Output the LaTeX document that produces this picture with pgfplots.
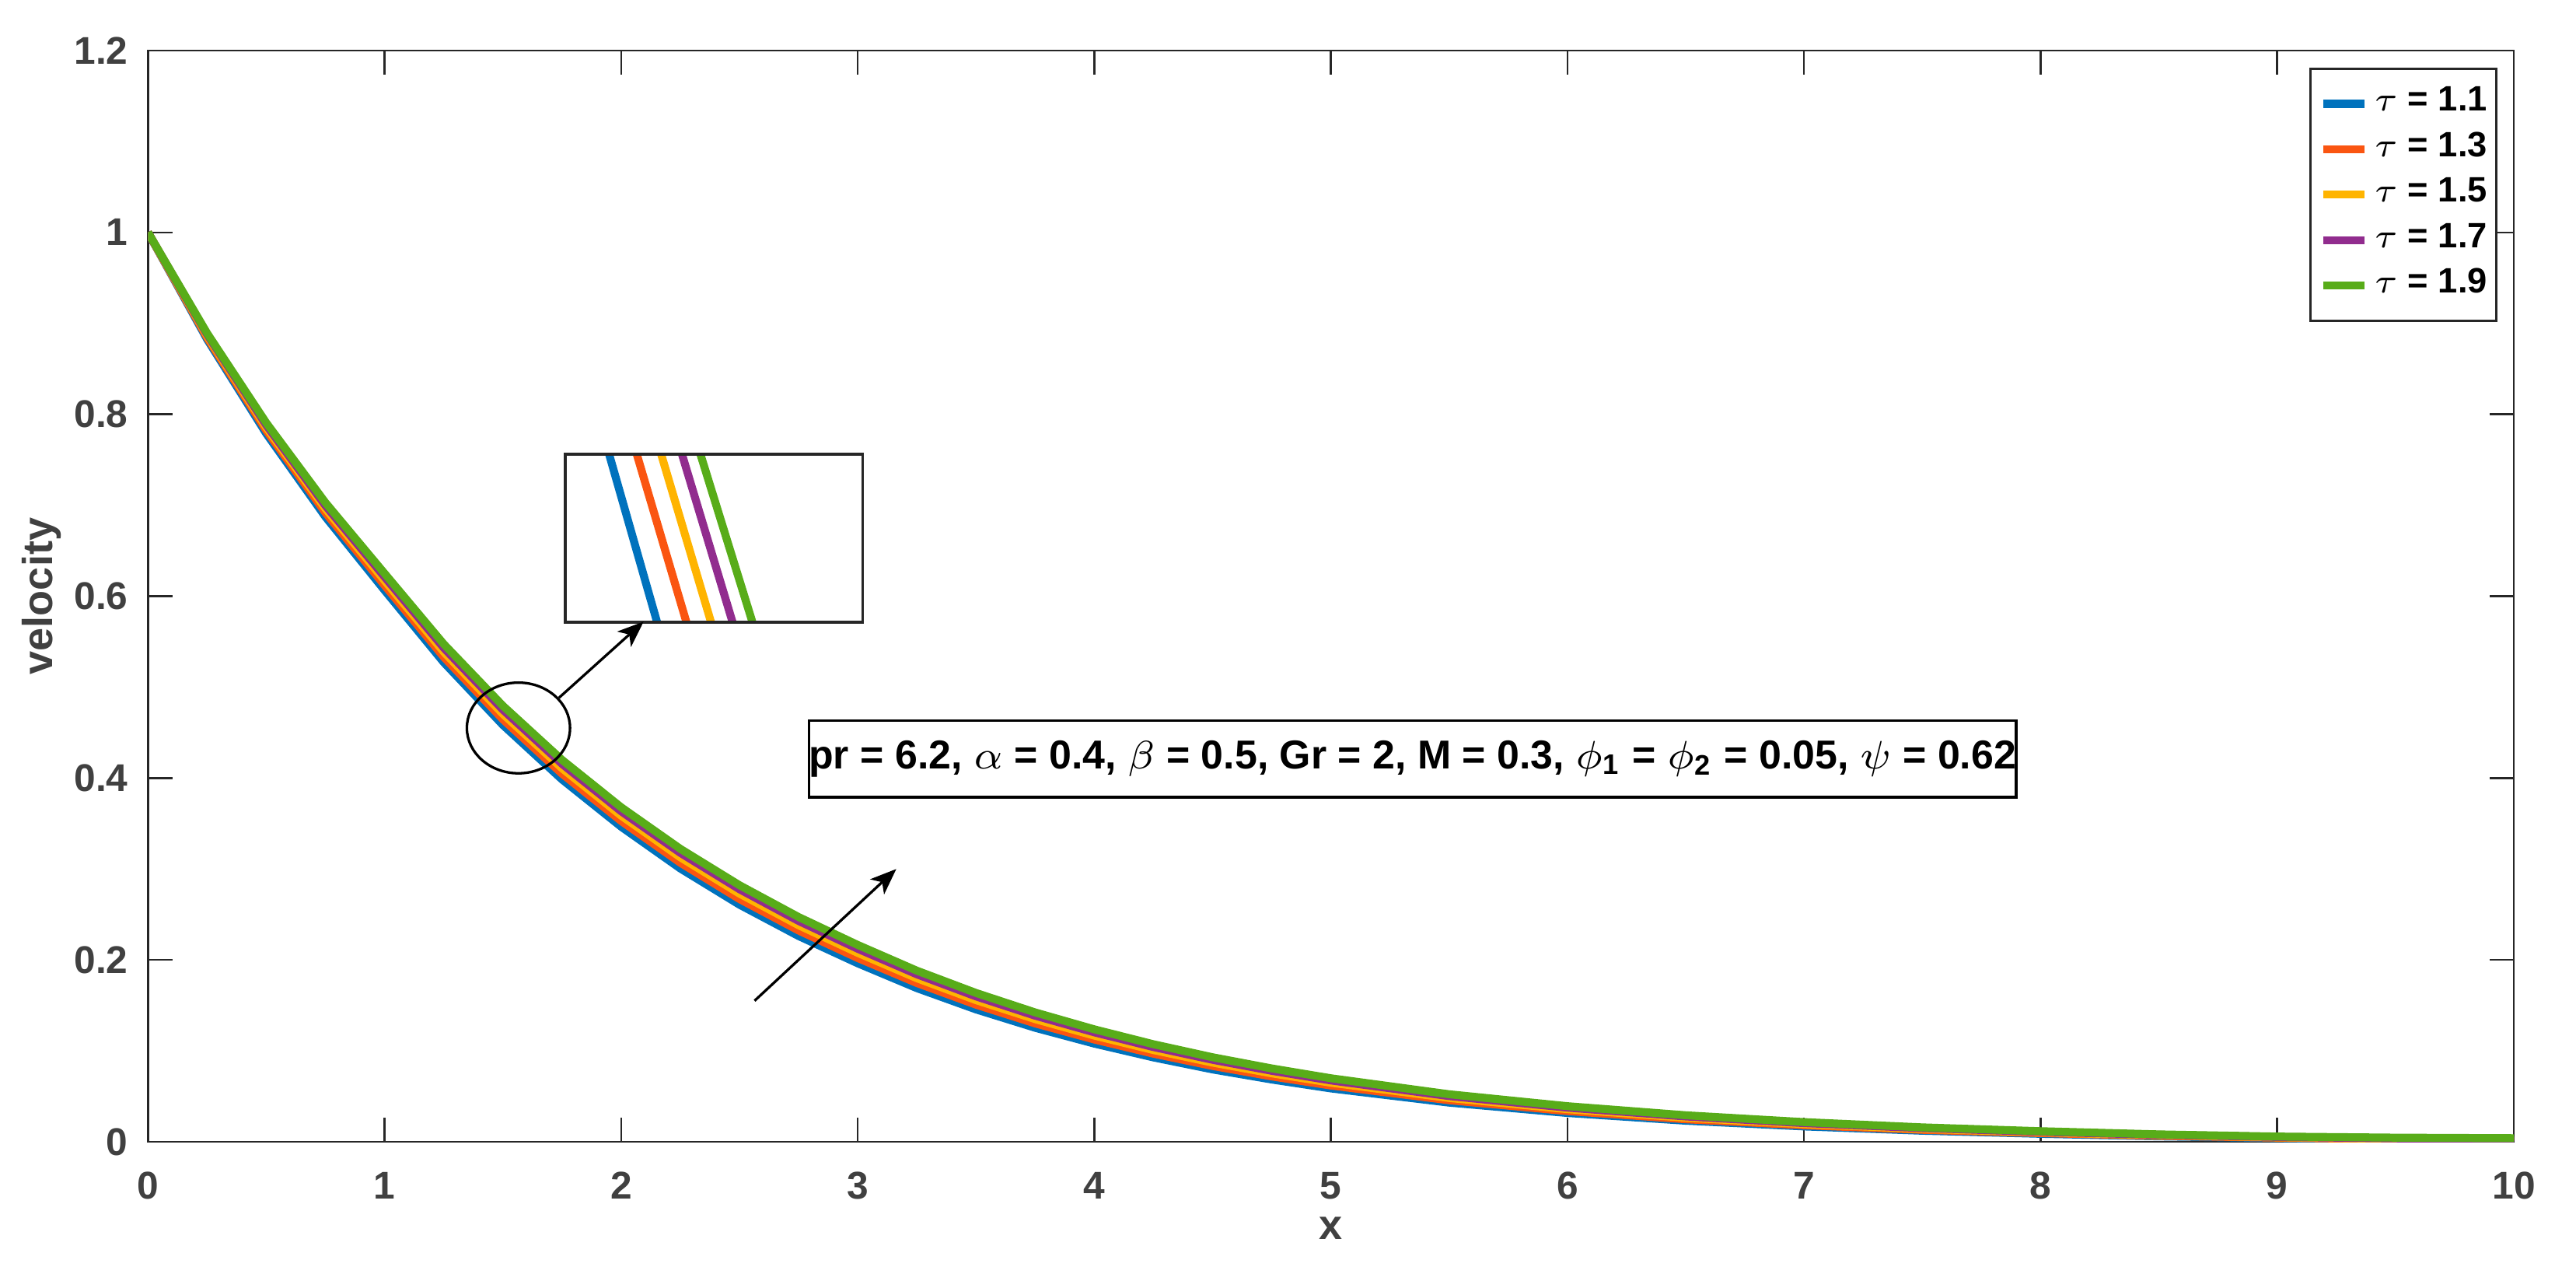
\documentclass[border=0pt]{standalone}
\usepackage{fontspec}
\setmainfont{Liberation Sans}
\usepackage{pgfplots}
\pgfplotsset{compat=1.18}
\usetikzlibrary{arrows.meta}

\definecolor{c1}{HTML}{0072BD}
\definecolor{c2}{HTML}{FA5511}
\definecolor{c3}{HTML}{FFB400}
\definecolor{c4}{HTML}{912C8E}
\definecolor{c5}{HTML}{58AC19}
\definecolor{axgray}{HTML}{262626}
\definecolor{txgray}{HTML}{404040}

\begin{document}
\begin{tikzpicture}
\begin{axis}[scale only axis, width=416.5pt, height=192.06pt,
  xmin=0, xmax=10, ymin=0, ymax=1.2,
  xtick={0,1,...,10}, ytick={0,0.2,0.4,0.6,0.8,1,1.2},
  tick align=inside, tick pos=both, major tick length=4.3pt,
  axis line style={draw=axgray, line width=0.35pt},
  every tick/.style={draw=axgray, line width=0.35pt},
  /pgf/number format/assume math mode=true,
  ticklabel style={font=\fontsize{6.8}{8}\selectfont\bfseries, text=txgray},
  xticklabel style={yshift=-1.8pt},
  xlabel={x}, ylabel={velocity},
  label style={font=\fontsize{7.4}{9}\selectfont\bfseries, text=txgray, inner sep=0.8pt},
  xlabel style={at={(axis description cs:0.5,-0.079)}, anchor=center},
  ylabel style={at={(axis description cs:-0.0451,0.5)}, anchor=center},
  legend style={at={(0.9931,0.9845)}, anchor=north east, draw=axgray,
    line width=0.4pt, font=\fontsize{6.2}{7}\selectfont\bfseries,
    inner xsep=1.6pt, inner ysep=2.2pt, column sep=1pt,
    nodes={inner sep=0pt, text height=5.3pt, text depth=2.7pt}},
  legend cell align=left,
  legend image code/.code={\draw[#1, line width=1.4pt] (0pt,0pt) -- (7.3pt,0pt);},
  every axis plot/.append style={line width=1.4pt, line join=round}]

\addplot[c1] coordinates {(0,1.0000)(0.25,0.8825)(0.5,0.7788)(0.75,0.6873)(1,0.6065)(1.25,0.5273)(1.5,0.4584)(1.75,0.3985)(2,0.3465)(2.25,0.3006)(2.5,0.2608)(2.75,0.2263)(3,0.1963)(3.25,0.1690)(3.5,0.1456)(3.75,0.1254)(4,0.1080)(4.25,0.0928)(4.5,0.0796)(4.75,0.0685)(5,0.0587)(5.5,0.0431)(6,0.0317)(6.5,0.0232)(7,0.0169)(7.5,0.0122)(8,0.0088)(8.5,0.0060)(9,0.0041)(9.5,0.0022)(10,0.0005)};
\addlegendentry{$\tau$ = 1.1}
\addplot[c2] coordinates {(0,1.0000)(0.25,0.8844)(0.5,0.7823)(0.75,0.6919)(1,0.6120)(1.25,0.5332)(1.5,0.4646)(1.75,0.4048)(2,0.3528)(2.25,0.3069)(2.5,0.2670)(2.75,0.2324)(3,0.2021)(3.25,0.1746)(3.5,0.1508)(3.75,0.1302)(4,0.1125)(4.25,0.0969)(4.5,0.0834)(4.75,0.0719)(5,0.0619)(5.5,0.0457)(6,0.0338)(6.5,0.0248)(7,0.0182)(7.5,0.0132)(8,0.0096)(8.5,0.0066)(9,0.0046)(9.5,0.0027)(10,0.0010)};
\addlegendentry{$\tau$ = 1.3}
\addplot[c3] coordinates {(0,1.0000)(0.25,0.8863)(0.5,0.7856)(0.75,0.6963)(1,0.6172)(1.25,0.5388)(1.5,0.4705)(1.75,0.4108)(2,0.3587)(2.25,0.3129)(2.5,0.2730)(2.75,0.2382)(3,0.2078)(3.25,0.1799)(3.5,0.1558)(3.75,0.1349)(4,0.1168)(4.25,0.1009)(4.5,0.0871)(4.75,0.0753)(5,0.0650)(5.5,0.0482)(6,0.0359)(6.5,0.0265)(7,0.0195)(7.5,0.0142)(8,0.0104)(8.5,0.0072)(9,0.0050)(9.5,0.0032)(10,0.0016)};
\addlegendentry{$\tau$ = 1.5}
\addplot[c4] coordinates {(0,1.0000)(0.25,0.8878)(0.5,0.7882)(0.75,0.6997)(1,0.6213)(1.25,0.5433)(1.5,0.4752)(1.75,0.4156)(2,0.3635)(2.25,0.3178)(2.5,0.2778)(2.75,0.2429)(3,0.2123)(3.25,0.1842)(3.5,0.1599)(3.75,0.1387)(4,0.1204)(4.25,0.1042)(4.5,0.0902)(4.75,0.0781)(5,0.0675)(5.5,0.0503)(6,0.0376)(6.5,0.0279)(7,0.0206)(7.5,0.0151)(8,0.0110)(8.5,0.0077)(9,0.0054)(9.5,0.0038)(10,0.0024)};
\addlegendentry{$\tau$ = 1.7}
\addplot[c5] coordinates {(0,1.0000)(0.25,0.8891)(0.5,0.7906)(0.75,0.7029)(1,0.6250)(1.25,0.5474)(1.5,0.4795)(1.75,0.4200)(2,0.3679)(2.25,0.3222)(2.5,0.2822)(2.75,0.2472)(3,0.2165)(3.25,0.1882)(3.5,0.1637)(3.75,0.1423)(4,0.1237)(4.25,0.1073)(4.5,0.0930)(4.75,0.0807)(5,0.0699)(5.5,0.0523)(6,0.0392)(6.5,0.0292)(7,0.0217)(7.5,0.0159)(8,0.0117)(8.5,0.0082)(9,0.0058)(9.5,0.0046)(10,0.0040)};
\addlegendentry{$\tau$ = 1.9}

% zoomed-in view of the curves
\addplot[c1, forget plot] coordinates {(1.949,0.7562)(2.152,0.5714)};
\addplot[c2, forget plot] coordinates {(2.066,0.7562)(2.276,0.5714)};
\addplot[c3, forget plot] coordinates {(2.169,0.7562)(2.380,0.5714)};
\addplot[c4, forget plot] coordinates {(2.257,0.7562)(2.471,0.5714)};
\addplot[c5, forget plot] coordinates {(2.335,0.7562)(2.555,0.5714)};
\draw[axgray, line width=0.45pt] (axis cs:1.764,0.5714) rectangle (axis cs:3.022,0.7562);

\draw[black, line width=0.45pt] (axis cs:1.566,0.4551) ellipse [x radius=9.08pt, y radius=7.98pt];
\draw[black, line width=0.45pt, -{Stealth[length=4.6pt, width=3.6pt, inset=1.2pt]}] (axis cs:1.737,0.4882) -- (axis cs:2.095,0.5720);
\draw[black, line width=0.45pt, -{Stealth[length=4.6pt, width=3.6pt, inset=1.2pt]}] (axis cs:2.564,0.1551) -- (axis cs:3.163,0.3000);

\node[draw=black, line width=0.45pt, fill=white, minimum width=212.5pt, minimum height=13.5pt, inner sep=0pt,
  font=\fontsize{7.1}{8}\selectfont\bfseries] at (axis cs:5.345,0.421)
  {pr = 6.2, $\alpha$ = 0.4, $\beta$ = 0.5, Gr = 2, M = 0.3, $\phi$\textsubscript{1} = $\phi$\textsubscript{2} = 0.05, $\psi$ = 0.62};
\end{axis}
\pgfresetboundingbox
\path (-26.05pt,-25.6pt) rectangle ++(453.5pt,226.56pt);
\end{tikzpicture}
\end{document}
